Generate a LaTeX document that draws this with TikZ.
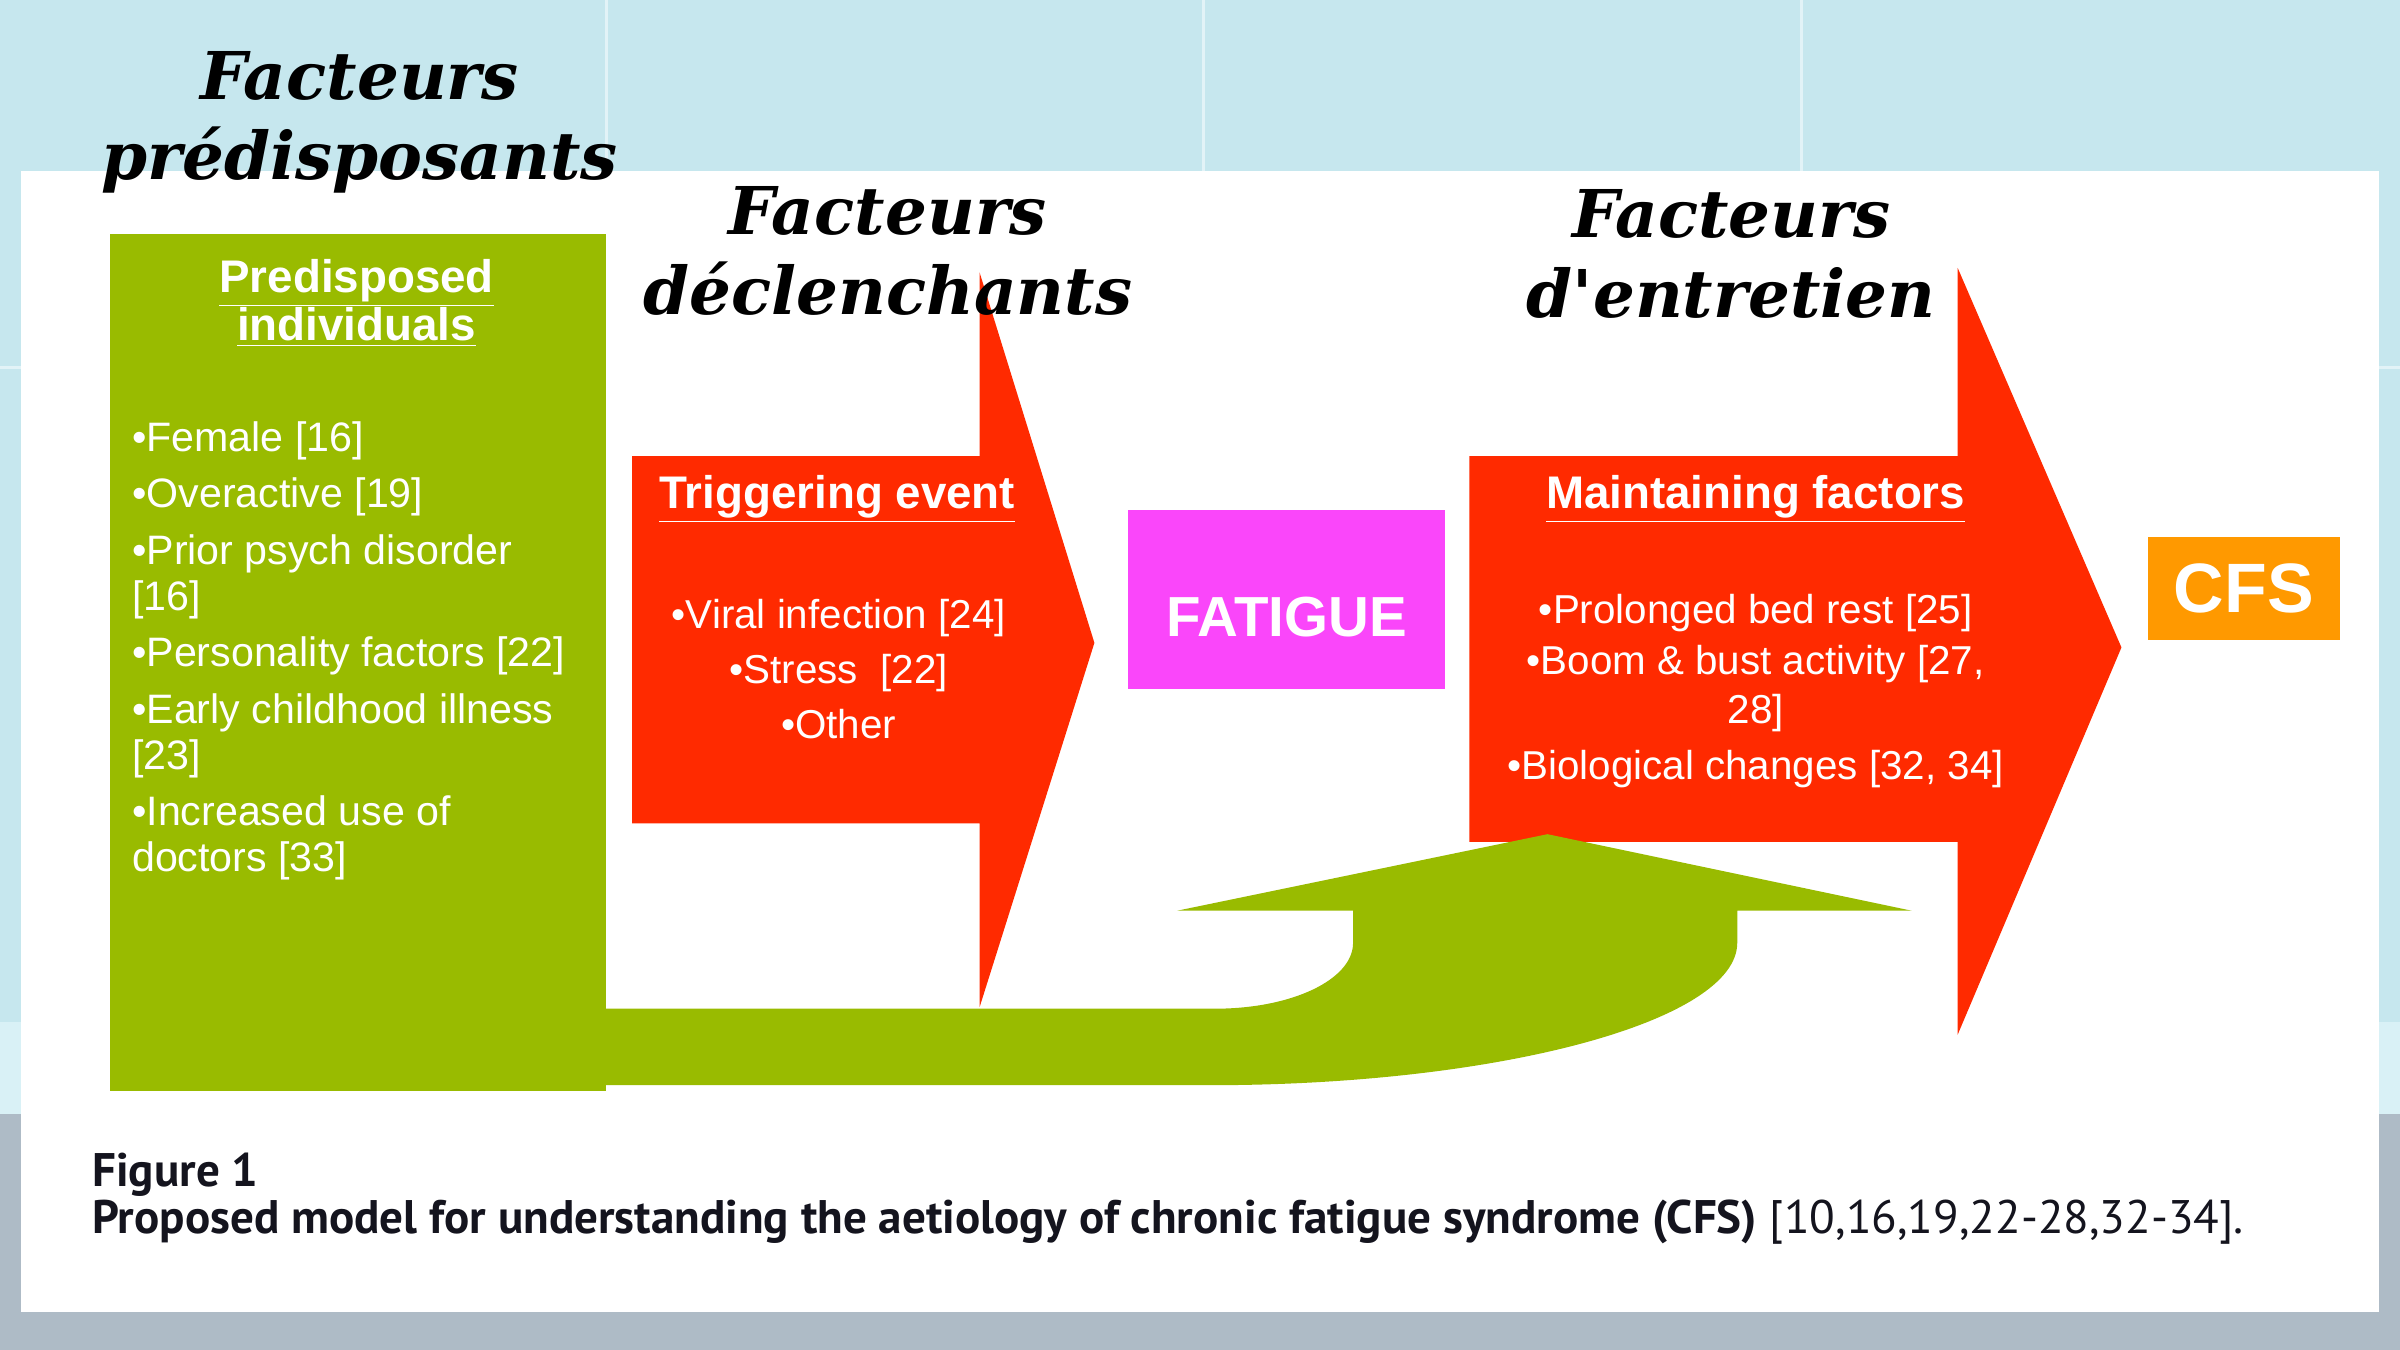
\documentclass[tikz,border=0pt]{standalone}
\usepackage{fontspec}
\setmainfont{Liberation Sans}
\newfontfamily\headfont{DejaVu Serif}
\newfontfamily\capfont{PT Sans}
\usetikzlibrary{positioning}
\definecolor{slide}{HTML}{C6E7EE}
\definecolor{slidelight}{HTML}{D9F1F6}
\definecolor{slidegrey}{HTML}{AEBBC6}
\definecolor{tileline}{HTML}{E2F3F7}
\definecolor{pregreen}{HTML}{99BB00}
\definecolor{trigred}{HTML}{FF2A00}
\definecolor{fatpink}{HTML}{FA46FA}
\definecolor{cfsorange}{HTML}{FF9900}
\definecolor{capink}{HTML}{14141E}

\begin{document}
\begin{tikzpicture}[x=0.02cm,y=-0.02cm,
  head/.style={font=\headfont\bfseries\itshape\fontsize{24.5}{29.6}\selectfont,align=center,inner sep=0pt},
  boxtitle/.style={text=white,font=\bfseries\fontsize{17}{19}\selectfont,align=center,inner sep=0pt},
  boxtext/.style={text=white,inner sep=0pt},
  block/.style={rectangle,inner sep=0pt,text=white,font=\bfseries}]
\useasboundingbox (0,0) rectangle (1568,882);
\fill[slide] (0,0) rectangle (1568,882);
\fill[slidelight] (0,668) rectangle (1568,728);
\fill[slidegrey] (0,728) rectangle (1568,882);
\draw[tileline,line width=0.04cm] (396,0) -- (396,112) (786,0) -- (786,112) (1177,0) -- (1177,112)
  (0,240) -- (1568,240);
\fill[white] (14,112) rectangle (1554,857);

\fill[trigred] (413,298) -- (640,298) -- (640,178) -- (715,420) -- (640,658) -- (640,538) -- (413,538) -- cycle;
\fill[trigred] (960,298) -- (1279,298) -- (1279,175) -- (1386,423) -- (1279,676) -- (1279,550) -- (960,550) -- cycle;

\node[block,fill=pregreen,minimum width=6.48cm,minimum height=11.2cm] (pre) at (234,433) {};
\fill[pregreen] (390,659) -- (794,659) .. controls (844,659) and (884,640) .. (884,616) -- (884,595)
  -- (769,595) -- (1011,545) -- (1249,595) -- (1135,595) -- (1135,616)
  .. controls (1135,667) and (980,709) .. (790,709) -- (390,709) -- cycle;

\node[block,fill=fatpink,minimum width=4.14cm,minimum height=2.34cm] (fat) at (840.5,391.5) {};
\node[block,font=\bfseries\fontsize{21}{24}\selectfont] (fatT) at ([yshift=-6.5pt]fat.center) {FATIGUE};
\node[block,fill=cfsorange,minimum width=2.5cm,minimum height=1.34cm,font=\bfseries\fontsize{26}{28}\selectfont] (cfs) at (1466,384.5) {CFS};

\node[head] (hPre) at (235,80) {Facteurs\\prédisposants};
\node[head] (hDec) at (580,164) {Facteurs\\déclenchants};
\node[head] (hEnt) at (1131,166) {Facteurs\\d'entretien};

\node[boxtitle] (preT) at (233,198) {\underline{Predisposed}\\[-1pt]\underline{individuals}};
\node[boxtext,anchor=north west,align=left,font=\fontsize{15.3}{17.1}\selectfont] (preL) at (86,275)
  {•Female [16]\\[3.9pt] •Overactive [19]\\[3.9pt] •Prior psych disorder\\ {[16]}\\[3.9pt] •Personality factors [22]\\[3.9pt]
   •Early childhood illness\\ {[23]}\\[3.9pt] •Increased use of\\ doctors [33]};

\node[boxtitle] (trigT) at (547,326) {\underline{Triggering event}};
\node[boxtext,align=center,font=\fontsize{15}{20.5}\selectfont] (trigL) at (548,437)
  {•Viral infection [24]\\ •Stress\ \ [22]\\ •Other};

\node[boxtitle] (maintT) at (1147,326) {\underline{Maintaining factors}};
\node[boxtext,align=center,font=\fontsize{15}{19.2}\selectfont] (maintL) at (1147,451.5)
  {•Prolonged bed rest [25]\\ •Boom \& bust activity [27,\\[-1.2pt] 28]\\[1.8pt] •Biological changes [32, 34]};

\node[anchor=base west,inner sep=0pt,text=capink,font=\capfont\bfseries\fontsize{17.5}{20}\selectfont] (fig) at (60,775) {Figure 1};
\node[anchor=base west,inner sep=0pt,text=capink,font=\capfont\fontsize{17.5}{20}\selectfont] (cap) at (60,806)
  {\textbf{Proposed model for understanding the aetiology of chronic fatigue syndrome (CFS)} [10,16,19,22-28,32-34].};
\end{tikzpicture}
\end{document}
